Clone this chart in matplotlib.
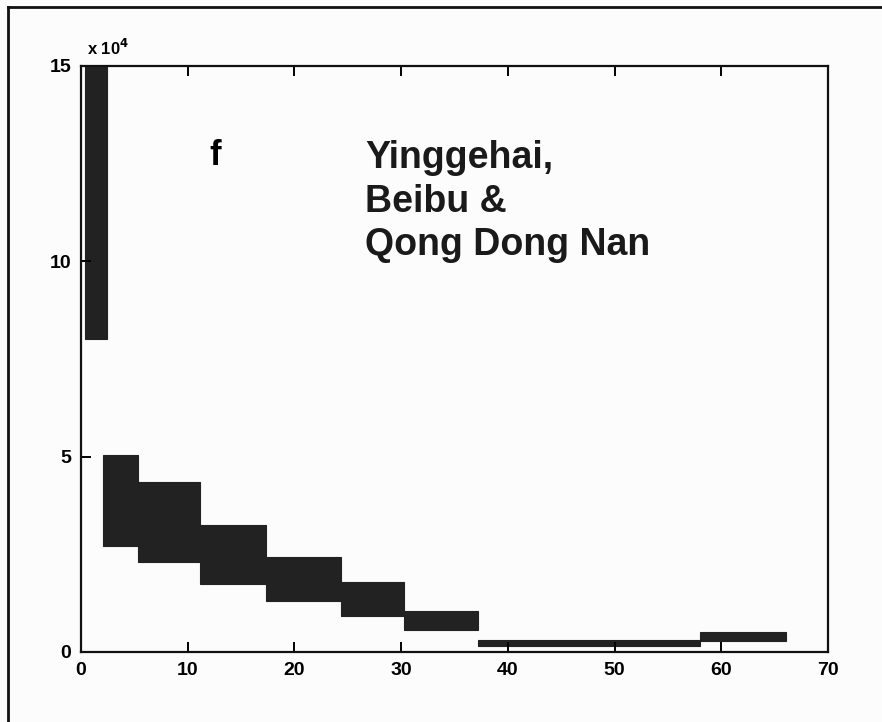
import matplotlib.pyplot as plt
from matplotlib.lines import Line2D

# age ranges (Ma) and flux envelope (x 10^4)
age_start = [0.4, 2.1, 5.3, 11.2, 17.3, 24.4, 30.3, 37.2, 58.0]
age_end = [2.4, 5.3, 11.2, 17.3, 24.4, 30.3, 37.2, 58.0, 66.1]
flux_low = [8.0, 2.7, 2.3, 1.75, 1.3, 0.92, 0.55, 0.15, 0.28]
flux_high = [15.0, 5.05, 4.35, 3.25, 2.42, 1.8, 1.05, 0.3, 0.5]

xticks = [0, 10, 20, 30, 40, 50, 60, 70]
yticks = [0, 5, 10, 15]

plt.rcParams['font.family'] = ['Liberation Sans', 'DejaVu Sans']

fig = plt.figure(figsize=(8.82, 7.22), dpi=100, facecolor='#fcfcfc')
ax = fig.add_axes([0.0918, 0.097, 0.847, 0.812])
ax.set_facecolor('#fcfcfc')

widths = [e - s for s, e in zip(age_start, age_end)]
heights = [h - l for l, h in zip(flux_low, flux_high)]
ax.bar(age_start, heights, width=widths, bottom=flux_low, align='edge',
       color='#222222', edgecolor='#222222', linewidth=0.8)

ax.set_xlim(0, 70)
ax.set_ylim(0, 15)
ax.set_xticks(xticks)
ax.set_yticks(yticks)
ax.tick_params(direction='in', length=7, width=1.4, top=True, right=False,
               labelsize=14, pad=7)
for lab in ax.get_xticklabels() + ax.get_yticklabels():
    lab.set_fontweight('bold')
for sp in ax.spines.values():
    sp.set_linewidth(1.6)
    sp.set_color('#111111')

ax.text(0.6, 15.2, r'x 10$^{\mathbf{4}}$', fontsize=12, fontweight='bold',
        ha='left', va='bottom')
ax.text(12.6, 12.7, 'f', fontsize=25, fontweight='bold', ha='center', va='center')
ax.text(26.6, 13.1, 'Yinggehai,\nBeibu &\nQong Dong Nan', fontsize=27,
        fontweight='bold', ha='left', va='top', linespacing=1.27,
        color='#1a1a1a')

# scanned page frame
fig.add_artist(Line2D([0.009, 0.009], [0.0, 0.99], color='#111111', lw=2))
fig.add_artist(Line2D([0.009, 1.0], [0.99, 0.99], color='#111111', lw=2))

plt.savefig('out.png', dpi=100, facecolor=fig.get_facecolor())
